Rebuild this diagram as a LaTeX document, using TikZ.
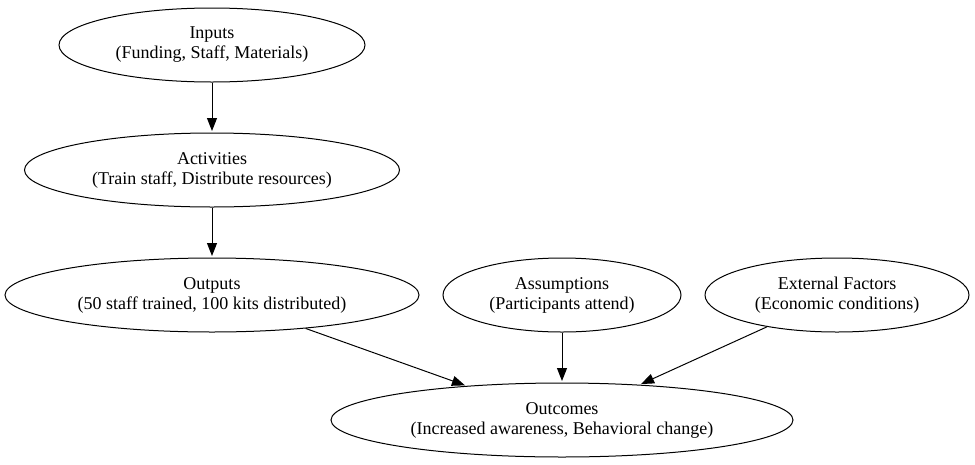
\documentclass[tikz,border=0pt]{standalone}
\usepackage{fontspec}
\setmainfont{Liberation Serif}
\usetikzlibrary{shapes.geometric,arrows.meta}
\begin{document}
\begin{tikzpicture}[x=1pt,y=-1pt,
  box/.style={ellipse,draw,line width=1pt,inner sep=0pt,align=center,font=\fontsize{18}{20}\selectfont},
  link/.style={-{Triangle[length=13pt,width=10pt]},line width=1pt,shorten >=1.5pt}]
\useasboundingbox (0,0) rectangle (975,464);
\node[box,minimum width=306pt,minimum height=74pt] (in) at (212,45) {Inputs\\(Funding, Staff, Materials)};
\node[box,minimum width=375pt,minimum height=74pt] (act) at (212,170) {Activities\\(Train staff, Distribute resources)};
\node[box,minimum width=414pt,minimum height=74pt] (out) at (212,295) {Outputs\\(50 staff trained, 100 kits distributed)};
\node[box,minimum width=238pt,minimum height=74pt] (ass) at (562,295) {Assumptions\\(Participants attend)};
\node[box,minimum width=264pt,minimum height=74pt] (ext) at (837,295) {External Factors\\(Economic conditions)};
\node[box,minimum width=462pt,minimum height=74pt] (oc) at (562,420) {Outcomes\\(Increased awareness, Behavioral change)};
\draw[link] (in) -- (act);
\draw[link] (act) -- (out);
\draw[link] (out) -- (oc);
\draw[link] (ass) -- (oc);
\draw[link] (ext) -- (oc);
\end{tikzpicture}
\end{document}
